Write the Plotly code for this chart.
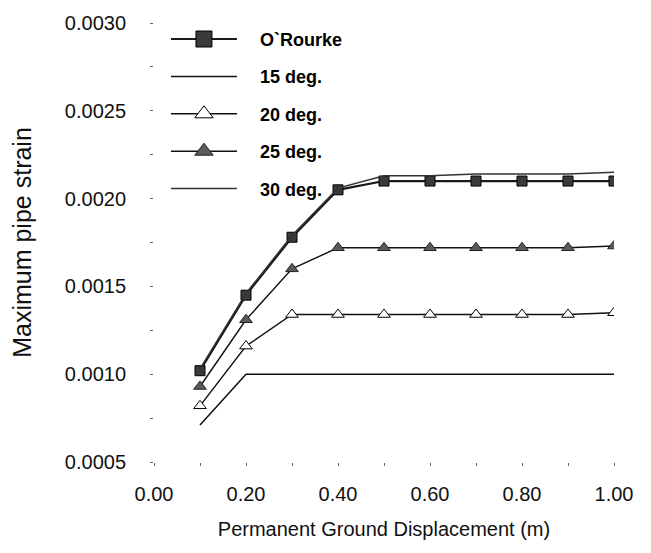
import plotly.graph_objects as go

# ---- data ----
displacement = [0.1, 0.2, 0.3, 0.4, 0.5, 0.6, 0.7, 0.8, 0.9, 1.0]
orourke = [0.00102, 0.00145, 0.00178, 0.00205, 0.00210, 0.00210, 0.00210, 0.00210, 0.00210, 0.00210]
deg15 = [0.00071, 0.00100, 0.00100, 0.00100, 0.00100, 0.00100, 0.00100, 0.00100, 0.00100, 0.00100]
deg20 = [0.00082, 0.00116, 0.00134, 0.00134, 0.00134, 0.00134, 0.00134, 0.00134, 0.00134, 0.00135]
deg25 = [0.00093, 0.00131, 0.00160, 0.00172, 0.00172, 0.00172, 0.00172, 0.00172, 0.00172, 0.00173]
deg30 = [0.00103, 0.00146, 0.00179, 0.00206, 0.00213, 0.00213, 0.00214, 0.00214, 0.00214, 0.00215]

series_names = ["O`Rourke", "15 deg.", "20 deg.", "25 deg.", "30 deg."]
x_ticks = [0.0, 0.2, 0.4, 0.6, 0.8, 1.0]
x_tick_text = ["0.00", "0.20", "0.40", "0.60", "0.80", "1.00"]
y_ticks = [0.0005, 0.0010, 0.0015, 0.0020, 0.0025, 0.0030]
y_tick_text = ["0.0005", "0.0010", "0.0015", "0.0020", "0.0025", "0.0030"]

FONT = "Liberation Sans, Arial, Helvetica, sans-serif"
PAD = "\u2002\u2002"  # visual gap between legend symbol and label

styles = [
    dict(mode="lines+markers", line=dict(color="#1a1a1a", width=2.2),
         marker=dict(symbol="square", size=10, color="#3a3a3a", line=dict(color="#000000", width=1))),
    dict(mode="lines", line=dict(color="#111111", width=1.5)),
    dict(mode="lines+markers", line=dict(color="#111111", width=1.4),
         marker=dict(symbol="triangle-up", size=11, color="#ffffff", line=dict(color="#000000", width=1))),
    dict(mode="lines+markers", line=dict(color="#111111", width=1.4),
         marker=dict(symbol="triangle-up", size=11, color="#5a5a5a", line=dict(color="#222222", width=1))),
    dict(mode="lines", line=dict(color="#333333", width=1.5)),
]
series = [orourke, deg15, deg20, deg25, deg30]

fig = go.Figure()

# data traces
for name, ys, st in zip(series_names, series, styles):
    fig.add_trace(go.Scatter(x=displacement, y=ys, name=name, showlegend=False, **st))

# legend entries (larger symbols, as in the reference key)
for i, (name, st) in enumerate(zip(series_names, styles)):
    st2 = dict(st)
    if "marker" in st2:
        mk = dict(st2["marker"])
        mk["size"] = 16
        st2["marker"] = mk
    fig.add_trace(go.Scatter(x=[None], y=[None], name=PAD + name, legendgroup="g%d" % i,
                             showlegend=True, hoverinfo="skip", **st2))

fig.update_layout(
    width=651, height=553,
    margin=dict(l=154, r=37, t=14, b=91),
    paper_bgcolor="white", plot_bgcolor="white",
    font=dict(family=FONT, size=20, color="#111111"),
    showlegend=True,
    legend=dict(
        x=0.026, y=1.005, xanchor="left", yanchor="top",
        bgcolor="rgba(0,0,0,0)",
        font=dict(family=FONT, size=18, color="#000000", weight="bold"),
        itemwidth=66,
        tracegroupgap=11,
        traceorder="grouped",
    ),
    xaxis=dict(
        range=[0, 1.0], showgrid=False, zeroline=False, showline=False,
        tickvals=x_ticks, ticktext=x_tick_text,
        ticks="outside", ticklen=3, tickwidth=1, tickcolor="#666666",
        minor=dict(dtick=0.1, ticks="outside", ticklen=3, tickcolor="#666666"),
        ticklabelstandoff=11,
        tickfont=dict(size=20),
        title=dict(text="Permanent Ground Displacement (m)", font=dict(size=20), standoff=17),
    ),
    yaxis=dict(
        range=[0.0005, 0.0030], showgrid=False, zeroline=False, showline=False,
        tickvals=y_ticks, ticktext=y_tick_text,
        ticks="outside", ticklen=3, tickwidth=1, tickcolor="#666666",
        minor=dict(dtick=0.00025, ticks="outside", ticklen=3, tickcolor="#666666"),
        ticklabelstandoff=20,
        tickfont=dict(size=20),
        title=dict(text="Maximum pipe strain", font=dict(size=25), standoff=26),
    ),
)

fig.write_html("out.html")
